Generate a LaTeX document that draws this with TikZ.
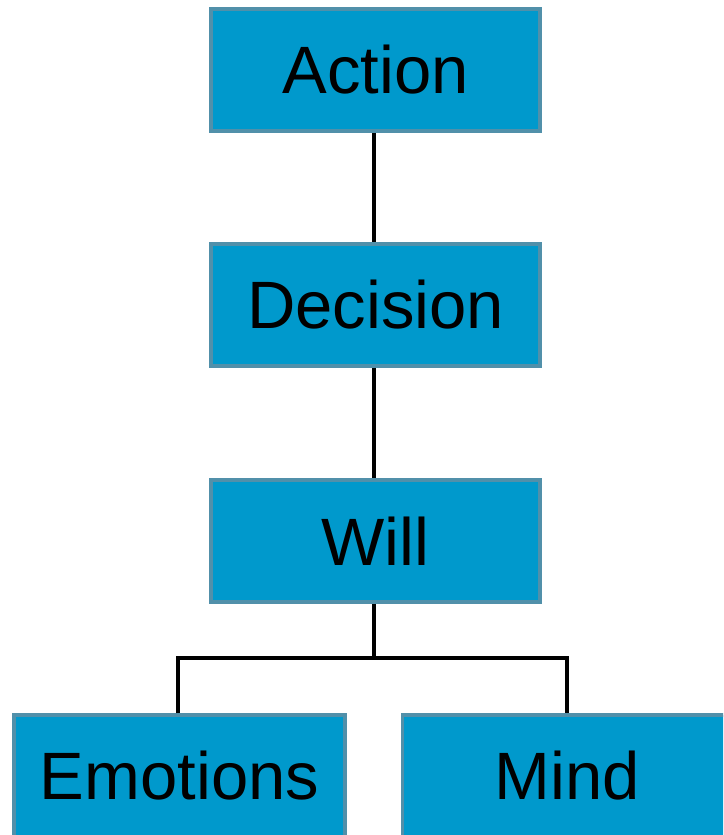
\documentclass[tikz,border=0pt]{standalone}
\usepackage{fontspec}
\setmainfont{Liberation Sans}
\definecolor{boxfill}{HTML}{0099CC}
\definecolor{boxline}{HTML}{5190AA}
\begin{document}
\begin{tikzpicture}[x=1pt,y=1pt,
  box/.style={draw=boxline, line width=3.5pt, fill=boxfill, minimum width=329pt, minimum height=122pt, inner sep=0pt,
    font=\fontsize{67}{67}\selectfont, text=black},
  conn/.style={draw=black, line width=3.5pt}]
\useasboundingbox (0,0) rectangle (723,-835);
\clip (0,0) rectangle (723,-835);
\fill[white] (0,0) rectangle (723,-835);
\node[box] (action) at (375.5,-70) {Action};
\node[box] (decision) at (375.5,-305) {Decision};
\node[box] (will) at (375.5,-541) {Will};
\node[box, minimum width=331pt] (emo) at (179.5,-776) {Emotions};
\node[box] (mind) at (567,-776) {Mind};
\coordinate (j) at (374,-658);
\draw[conn] (action.south -| j) -- (decision.north -| j);
\draw[conn] (decision.south -| j) -- (will.north -| j);
\draw[conn] (will.south -| j) -- (j);
\draw[conn] (emo.north -| 178,0) |- (j) -| (mind.north -| 567,0);
\end{tikzpicture}
\end{document}
